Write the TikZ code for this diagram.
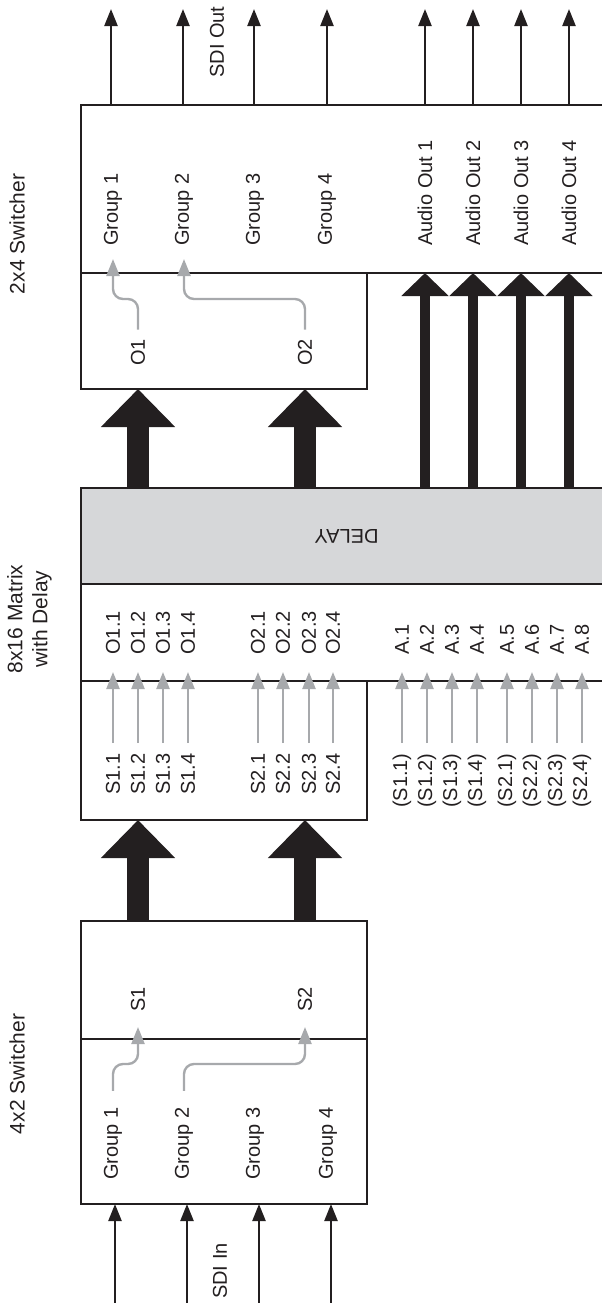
\documentclass[tikz,border=0pt]{standalone}
\usepackage{fontspec}
\setmainfont{Liberation Sans}
\usetikzlibrary{positioning,arrows.meta}
\definecolor{ink}{RGB}{35,31,32}
\definecolor{patchgray}{RGB}{167,169,172}
\definecolor{delayfill}{RGB}{214,215,217}

\begin{document}
\begin{tikzpicture}[x=0.5pt,y=-0.5pt,
  box/.style={draw=ink,line width=1.1pt,inner sep=0,outer sep=0},
  lbl/.style={rotate=90,inner sep=0,text=ink,font=\fontsize{10}{12}\selectfont},
  title/.style={rotate=90,align=center,inner sep=0,text=ink,font=\fontsize{10.5}{12.5}\selectfont},
  sig/.style={draw=ink,line width=1.2pt,-{Triangle[width=6.5pt,length=8.5pt]}},
  fat/.style={draw=ink,line width=11pt,-{Triangle[width=36pt,length=19pt]}},
  bus/.style={draw=ink,line width=5pt,-{Triangle[width=23pt,length=11.5pt]}},
  patch/.style={draw=patchgray,line width=1.2pt,rounded corners=5pt,-{Triangle[width=6.5pt,length=8.5pt]}}]
\useasboundingbox (0,0) rectangle (601,1303);

% blocks
\node[box,minimum width=265.5pt,minimum height=84pt] (outtop) at (346.5,189) {};
\node[box,minimum width=143pt,minimum height=58pt] (outbot) at (224,331) {};
\node[box,fill=delayfill,minimum width=265.5pt,minimum height=48pt] (delay) at (346.5,536) {};
\node[box,minimum width=265.5pt,minimum height=48.5pt] (mxtop) at (346.5,632.5) {};
\node[box,minimum width=143pt,minimum height=69.5pt] (mxbot) at (224,750.5) {};
\node[box,minimum width=143pt,minimum height=59pt] (intop) at (224,980) {};
\node[box,minimum width=143pt,minimum height=82.5pt] (inbot) at (224,1121.5) {};

% titles
\node[title] (t24) at (17,234) {2x4 Switcher};
\node[title] (t816) at (29.5,619) {8x16 Matrix\\with Delay};
\node[title] (t42) at (17,1074) {4x2 Switcher};
\node[rotate=180,inner sep=0,text=ink,font=\fontsize{10}{12}\selectfont] (dlytxt) at (delay) {DELAY};

% 2x4 switcher
\foreach \x [count=\i] in {113,184,255,327} \node[lbl,anchor=west] (og\i) at (\x,246) {Group \i};
\foreach \x [count=\i] in {425,473,521,569} \node[lbl,anchor=west] (ao\i) at (\x,246) {Audio Out \i};
\node[lbl,anchor=west] (o1) at (138,366) {O1};
\node[lbl,anchor=west] (o2) at (305,366) {O2};
\node[lbl] (sdiout) at (217,42) {SDI Out};
\foreach \x [count=\i] in {111,183,254,327,425,473,521,569} \coordinate (out\i) at (\x,9);
\foreach \i in {1,...,8} \draw[sig] (outtop.north -| out\i) -- (out\i);
\coordinate (bendout) at (0,299);
\draw[patch,shorten <=4.5pt,shorten >=6.5pt] (o1.east) -- (o1.east |- bendout) -- (og1.west |- bendout) -- (og1.west);
\draw[patch,shorten <=4.5pt,shorten >=6.5pt] (o2.east) -- (o2.east |- bendout) -- (og2.west |- bendout) -- (og2.west);
\draw[fat] (delay.north -| o1) -- (outbot.south -| o1);
\draw[fat] (delay.north -| o2) -- (outbot.south -| o2);
\foreach \i in {1,...,4} \draw[bus] (delay.north -| ao\i) -- (outtop.south -| ao\i);

% matrix
\foreach \x/\t [count=\i] in {113/1.1,138/1.2,163/1.3,188/1.4,258/2.1,283/2.2,309/2.3,333/2.4}{
  \node[lbl,anchor=west] (mo\i) at (\x,655) {O\t};
  \node[lbl,anchor=east] (ms\i) at (\x,753) {S\t};
  \draw[patch,shorten <=5pt,shorten >=8.5pt] (ms\i.east) -- (mo\i.west);
}
\foreach \x/\t [count=\i] in {402/1.1,427/1.2,452/1.3,477/1.4,507/2.1,532/2.2,557/2.3,582/2.4}{
  \node[lbl,anchor=west] (ma\i) at (\x,655) {A.\i};
  \node[lbl,anchor=east] (mas\i) at (\x,753) {(S\t)};
  \draw[patch,shorten <=5pt,shorten >=8.5pt] (mas\i.east) -- (ma\i.west);
}

% 4x2 switcher
\foreach \x [count=\i] in {113,184,255,328} \node[lbl,anchor=west] (ig\i) at (\x,1180) {Group \i};
\node[lbl,anchor=west] (s1) at (138,1012) {S1};
\node[lbl,anchor=west] (s2) at (305,1012) {S2};
\node[lbl] (sdiin) at (220,1271) {SDI In};
\coordinate (bendin) at (0,1064);
\draw[patch,shorten <=8pt,shorten >=7.5pt] (ig1.east) -- (ig1.east |- bendin) -- (s1.west |- bendin) -- (s1.west);
\draw[patch,shorten <=8pt,shorten >=7.5pt] (ig2.east) -- (ig2.east |- bendin) -- (s2.west |- bendin) -- (s2.west);
\draw[fat] (intop.north -| s1) -- (mxbot.south -| s1);
\draw[fat] (intop.north -| s2) -- (mxbot.south -| s2);
\foreach \x [count=\i] in {115,187,259,331} \coordinate (in\i) at (\x,1303);
\foreach \i in {1,...,4} \draw[sig] (in\i) -- (inbot.south -| in\i);
\end{tikzpicture}
\end{document}
